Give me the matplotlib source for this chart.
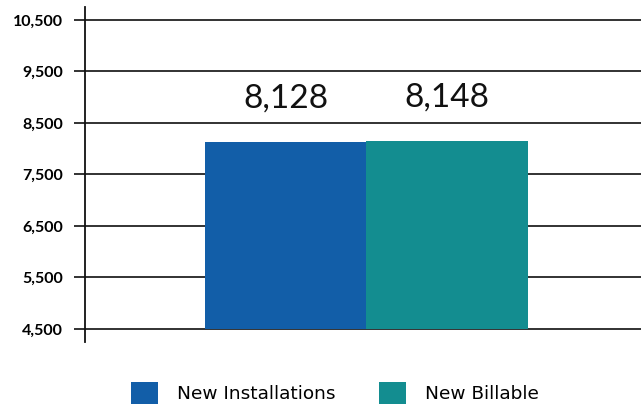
import matplotlib.pyplot as plt
from matplotlib.ticker import FuncFormatter

# counts for the period
categories = ["New Installations", "New Billable"]
values = [8128, 8148]
colors = ["#125ea8", "#138d90"]
yticks = [4500, 5500, 6500, 7500, 8500, 9500, 10500]

plt.rcParams['font.family'] = ['Lato', 'DejaVu Sans']

fig = plt.figure(figsize=(6.41, 4.07), dpi=100)
ax = fig.add_axes([0.1326, 0.16, 0.8674, 0.823])

x = list(range(len(categories)))
base = yticks[0]
bars = ax.bar(x, [v - base for v in values], bottom=base, width=1.0,
              color=colors, label=categories, zorder=3)

for xi, v in zip(x, values):
    ax.text(xi, v + 560, f"{v:,}", ha='center', va='bottom',
            fontsize=24, color='#111111', zorder=4)

ax.set_xlim(-1.241, 2.201)
ax.set_ylim(4250, 10750)
ax.set_yticks(yticks)
ax.yaxis.set_major_formatter(FuncFormatter(lambda v, p: f"{int(v):,}"))
ax.set_xticks([])

ax.grid(axis='y', color='#222222', linewidth=1.3, zorder=1)
for s in ['top', 'right', 'bottom']:
    ax.spines[s].set_visible(False)
ax.spines['left'].set_linewidth(1.3)
ax.spines['left'].set_color('#111111')
ax.tick_params(axis='y', length=8, width=1.3, color='#222222', pad=8,
               labelsize=11.5)
for lbl in ax.get_yticklabels():
    lbl.set_fontweight('bold')

fig.legend(handles=bars, labels=categories, ncol=2, loc='center',
           bbox_to_anchor=(335 / 641, 1 - 393 / 407), frameon=False,
           prop={'family': 'DejaVu Sans', 'size': 13.3},
           handlelength=1.46, handleheight=1.46,
           handletextpad=1.03, columnspacing=2.33)

fig.savefig("out.png", dpi=100)
